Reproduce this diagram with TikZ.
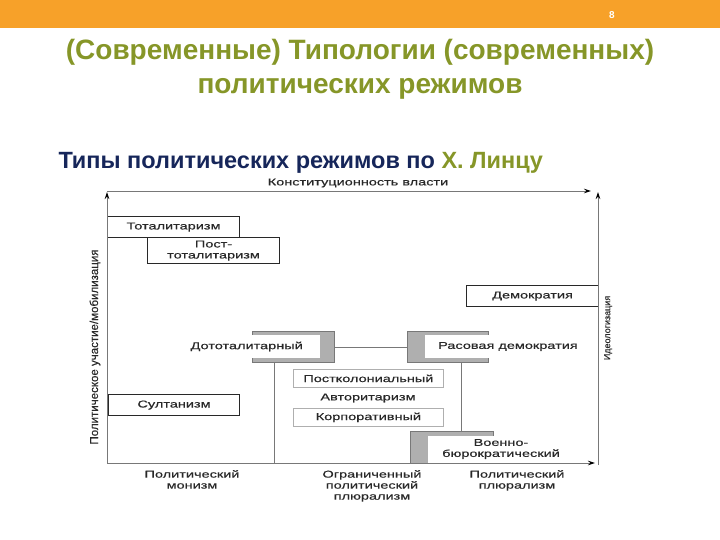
\documentclass[tikz,border=0pt]{standalone}
\usepackage{fontspec}
\setmainfont{Liberation Sans}
\newfontfamily\scanfont[FakeStretch=1.45,FakeBold=0.45]{Liberation Sans}
\newfontfamily\narrowfont[FakeBold=0.3]{Liberation Sans}
\usetikzlibrary{arrows.meta}

\begin{document}
\begin{tikzpicture}[x=1pt,y=-1pt]

% ------------------------------------------------ slide theme colors
\definecolor{ln_orange}{RGB}{247,161,41}  %#F7A129
\definecolor{ln_olive}{RGB}{134,150,40}   %#869628
\definecolor{ln_navy}{RGB}{22,38,90}      %#16265A
\definecolor{ln_ink}{RGB}{40,40,40}       %#282828
\definecolor{ln_line}{RGB}{120,120,120}   %#787878
\definecolor{ln_shade}{RGB}{175,175,175}  %#AFAFAF

\tikzset{
  regime/.style={draw=ln_ink, line width=1.1pt, fill=white, inner sep=0pt,
    font=\scanfont\fontsize{10}{11}\selectfont, text=ln_ink, align=center, anchor=north west},
  subtype/.style={regime, draw=ln_shade, line width=0.8pt},
  shadebox/.style={draw=ln_line, line width=0.8pt, fill=ln_shade, anchor=north west},
  padtext/.style={fill=white, inner ysep=0pt, minimum height=23,
    font=\scanfont\fontsize{10}{11}\selectfont, text=ln_ink, align=center},
  axislabel/.style={font=\scanfont\fontsize{10}{11}\selectfont, text=ln_ink, align=center, inner sep=0pt},
  sidelabel/.style={axislabel, rotate=90, font=\narrowfont\fontsize{#1}{12}\selectfont},
  link/.style={draw=ln_line, line width=0.8pt},
  axis/.style={draw=ln_line, line width=0.8pt, >={Stealth[length=7pt,width=4.5pt,color=black]}}
}

\useasboundingbox (0,0) rectangle (720,540);

% header
\fill[ln_orange] (0,0) rectangle (720,28);
\node[text=white, font=\bfseries\fontsize{10}{12}\selectfont] (pagenum) at (612,15) {8};
\node[text=ln_olive, align=center, font=\bfseries\fontsize{28}{34}\selectfont] (title) at (360,69)
  {(Современные) Типологии (современных)\\политических режимов};
\node[anchor=west, text=ln_navy, font=\bfseries\fontsize{23.5}{26}\selectfont] (subtitle) at (55,163)
  {Типы политических режимов по \textcolor{ln_olive}{Х. Линцу}};

% axes end points
\coordinate (origin) at (107,463);
\coordinate (lefttop) at (107,192);
\coordinate (topleft) at (107,191);
\coordinate (topright) at (591,191);
\coordinate (botright) at (595,463);
\coordinate (rightbot) at (598,465);
\coordinate (righttop) at (598,192);

% regimes
\node[regime, minimum width=132, minimum height=21] (total) at (107,216) {Тоталитаризм};
\node[regime, minimum width=132, minimum height=26] (posttotal) at (147,237) {Пост-\\тоталитаризм};
\node[regime, minimum width=132, minimum height=21] (democ) at (466,285) {Демократия};
\node[regime, minimum width=131, minimum height=21] (sultan) at (108,394) {Султанизм};

\node[shadebox, minimum width=82, minimum height=31] (pretot) at (252,331) {};
\node[padtext, anchor=east, inner xsep=17pt] (pretot text) at (320,346.5) {Дототалитарный};
\node[shadebox, minimum width=81, minimum height=31] (racial) at (407,331) {};
\node[padtext, anchor=west, inner xsep=13pt] (racial text) at (425,346.5) {Расовая демократия};
\node[shadebox, minimum width=83, minimum height=32] (milit) at (410,431) {};
\node[padtext, anchor=west, inner xsep=14pt, minimum height=27] (milit text) at (428,449) {Военно-\\бюрократический};

% authoritarianism
\node[subtype, minimum width=150, minimum height=18] (postcol) at (293,369) {Постколониальный};
\node[axislabel] (author) at (368,398) {Авторитаризм};
\node[subtype, minimum width=150, minimum height=18] (corpor) at (293,408) {Корпоративный};

\draw[link] (pretot.east) -- (racial.west);
\draw[link] ([xshift=22pt]pretot.south west) -- ([xshift=22pt]pretot.south west |- origin);
\draw[link] ([xshift=54pt]racial.south west) -- ([xshift=54pt]racial.south west |- milit.north);

% axes
\draw[axis,->] (origin) -- (lefttop);
\draw[axis,->] (topleft) -- (topright);
\draw[axis,->] (origin) -- (botright);
\draw[axis,->] (rightbot) -- (righttop);

\node[axislabel] (constit) at (358,183) {Конституционность власти};
\node[sidelabel=11.5] (partic) at (95,347) {Политическое участие/мобилизация};
\node[sidelabel=9] (ideol) at (608,328) {Идеологизация};

\node[axislabel, anchor=north] (monism) at (192,470) {Политический\\монизм};
\node[axislabel, anchor=north] (limited) at (372,470) {Ограниченный\\политический\\плюрализм};
\node[axislabel, anchor=north] (plural) at (517,470) {Политический\\плюрализм};

\end{tikzpicture}
\end{document}
